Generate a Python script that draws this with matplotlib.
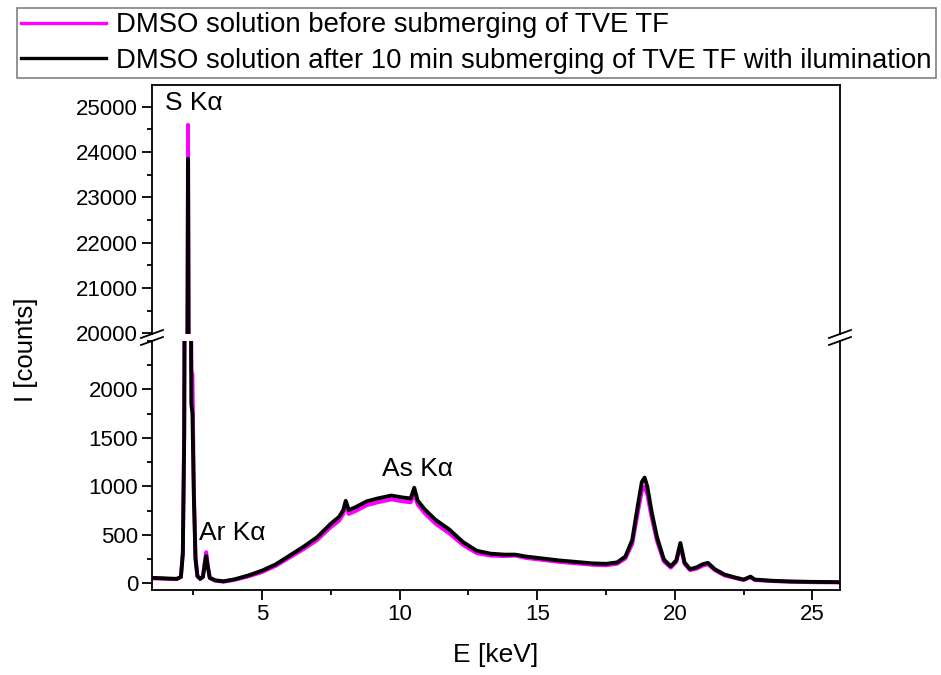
import matplotlib
matplotlib.use('Agg')
import matplotlib.pyplot as plt
from matplotlib.ticker import MultipleLocator
from matplotlib.lines import Line2D

plt.rcParams['font.family'] = ['Liberation Sans', 'DejaVu Sans']

# energy grid (keV)
energy = [1.0, 1.3, 1.6, 1.9, 2.05, 2.12, 2.17, 2.22, 2.27, 2.31, 2.35, 2.39, 2.43,
          2.47, 2.52, 2.58, 2.65, 2.75, 2.85, 2.92, 2.97, 3.02, 3.1, 3.3, 3.6, 4.0,
          4.5, 5.0, 5.5, 6.0, 6.5, 7.0, 7.5, 7.8, 7.95, 8.04, 8.15, 8.4, 8.8, 9.2,
          9.7, 10.1, 10.4, 10.53, 10.65, 10.9, 11.3, 11.8, 12.3, 12.8, 13.3, 13.8,
          14.2, 14.6, 15.2, 15.8, 16.4, 17.0, 17.5, 17.9, 18.2, 18.45, 18.65, 18.8,
          18.9, 19.0, 19.15, 19.35, 19.6, 19.85, 20.05, 20.2, 20.35, 20.55, 20.8,
          21.0, 21.2, 21.45, 21.8, 22.2, 22.5, 22.75, 22.9, 23.5, 24.2, 25.0, 26.0]

# DMSO before submerging (magenta)
before = [50, 48, 45, 42, 65, 320, 1600, 6500, 17000, 24600, 16000, 5000, 2200,
          2150, 1000, 280, 70, 45, 70, 230, 320, 200, 55, 25, 15, 35,
          70, 115, 180, 265, 350, 445, 580, 645, 715, 800, 715, 745, 805, 835,
          865, 845, 835, 925, 815, 725, 615, 515, 395, 310, 285, 280,
          285, 260, 240, 220, 205, 190, 185, 200, 255, 405, 725, 955,
          995, 915, 685, 435, 225, 160, 220, 385, 200, 135, 150,
          180, 195, 135, 80, 52, 33, 62, 33, 22, 15, 10, 8]

# DMSO after 10 min submerging with illumination (black)
after = [55, 52, 48, 45, 65, 300, 1500, 6000, 16000, 23850, 15000, 4500, 1850,
         1750, 900, 250, 75, 45, 65, 200, 280, 180, 55, 30, 20, 40,
         80, 130, 195, 285, 375, 475, 615, 685, 755, 850, 755, 785, 845, 875,
         905, 885, 875, 985, 855, 765, 655, 555, 425, 335, 305, 295,
         295, 275, 255, 235, 220, 205, 200, 215, 275, 445, 795, 1045,
         1090, 995, 745, 475, 245, 175, 235, 415, 215, 145, 165,
         195, 210, 145, 90, 58, 38, 68, 38, 26, 18, 14, 11]

labels = ['DMSO solution before submerging of TVE TF',
          'DMSO solution after 10 min submerging of TVE TF with ilumination']
colors = ['#ff00ff', '#000000']

W, H = 941, 675
fig = plt.figure(figsize=(W / 100, H / 100), dpi=100)

def px(x0, y0, x1, y1):
    return [x0 / W, 1 - y1 / H, (x1 - x0) / W, (y1 - y0) / H]

ax_top = fig.add_axes(px(152, 85, 840, 334))
ax_bot = fig.add_axes(px(152, 341, 840, 590))

for ax in (ax_top, ax_bot):
    ax.plot(energy, before, color=colors[0], lw=2.8)
    ax.plot(energy, after, color=colors[1], lw=2.8)
    ax.set_xlim(1, 26)
    ax.xaxis.set_major_locator(MultipleLocator(5))
    ax.xaxis.set_minor_locator(MultipleLocator(2.5))
    ax.tick_params(which='major', direction='out', length=7, width=1.3,
                   labelsize=16, pad=3)
    ax.tick_params(which='minor', direction='out', length=3.8, width=1.3)
    for s in ax.spines.values():
        s.set_linewidth(1.3)

ax_top.set_ylim(19985, 25480)
ax_top.yaxis.set_major_locator(MultipleLocator(1000))
ax_top.yaxis.set_minor_locator(MultipleLocator(500))
ax_top.spines['bottom'].set_visible(False)
ax_top.tick_params(axis='x', which='both', bottom=False, labelbottom=False)

ax_bot.set_ylim(-70, 2500)
ax_bot.yaxis.set_ticks([0, 500, 1000, 1500, 2000])
ax_bot.yaxis.set_minor_locator(MultipleLocator(250))
ax_bot.spines['top'].set_visible(False)

# break marks on both spines
for xs in (152, 840):
    for ys in (334, 341):
        fig.add_artist(Line2D([(xs - 11) / W, (xs + 11) / W],
                              [1 - (ys + 4) / H, 1 - (ys - 4) / H],
                              color='black', lw=1.3))

ax_top.text(1.47, 25090, 'S K\u03b1', fontsize=19, ha='left', va='center')
ax_bot.text(2.7, 520, 'Ar K\u03b1', fontsize=19, ha='left', va='center')
ax_bot.text(9.34, 1183, 'As K\u03b1', fontsize=19, ha='left', va='center')

fig.text(496 / W, 1 - 655 / H, 'E [keV]', fontsize=19, ha='center', va='center')
fig.text(26 / W, 1 - 350 / H, 'I [counts]', fontsize=18.5, ha='center',
         va='center', rotation=90)

handles = [Line2D([], [], color=c, lw=2.4) for c in colors]
leg = fig.legend(handles, labels, loc='upper left',
                 bbox_to_anchor=(17 / W, 1 - 8 / H), borderaxespad=0,
                 fontsize=19.8, fancybox=False, edgecolor='#808080',
                 framealpha=1, handlelength=3.1, handletextpad=0.35,
                 labelspacing=0.36, borderpad=0.15)
leg.get_frame().set_linewidth(1.2)

fig.savefig('out.png', dpi=100)
